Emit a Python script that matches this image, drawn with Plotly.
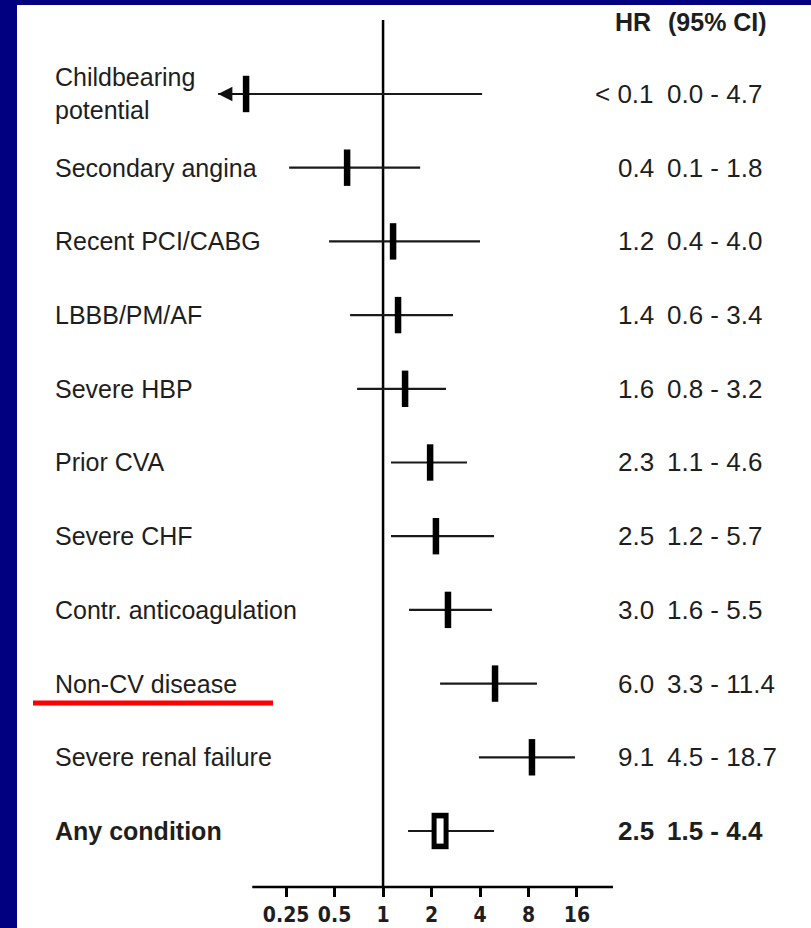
import math
import plotly.graph_objects as go

# ---------------- data ----------------
conditions = ["Childbearing<br>potential", "Secondary angina", "Recent PCI/CABG",
              "LBBB/PM/AF", "Severe HBP", "Prior CVA", "Severe CHF",
              "Contr. anticoagulation", "Non-CV disease", "Severe renal failure",
              "Any condition"]
hr_text = ["< 0.1", "0.4", "1.2", "1.4", "1.6", "2.3", "2.5", "3.0", "6.0", "9.1", "2.5"]
ci_text = ["0.0 - 4.7", "0.1 - 1.8", "0.4 - 4.0", "0.6 - 3.4", "0.8 - 3.2", "1.1 - 4.6",
           "1.2 - 5.7", "1.6 - 5.5", "3.3 - 11.4", "4.5 - 18.7", "1.5 - 4.4"]
# point estimates and CI ends as drawn on the plot
est = [0.141, 0.598, 1.154, 1.239, 1.37, 1.96, 2.13, 2.53, 4.96, 8.41, 2.26]
lo = [0.0945, 0.261, 0.462, 0.624, 0.690, 1.12, 1.12, 1.45, 2.26, 3.94, 1.43]
hi = [4.12, 1.70, 4.0, 2.72, 2.46, 3.32, 4.89, 4.75, 9.03, 15.55, 4.89]
tick_vals = [0.25, 0.5, 1, 2, 4, 8, 16]
tick_text = ["0.25", "0.5", "1", "2", "4", "8", "16"]
summary_index = 10

W, H = 811, 928
rows = list(range(len(conditions)))
axis_line_start = 0.154          # where the drawn x-axis line begins
x_range_vals = (0.0866, 26.8)     # plotting range (extra room on the left for the arrow)
y_top, y_bot = -1.004, 10.76

# pixel geometry of the plotting area
px_left, px_right = 212, 613
px_top, px_bottom = 20, 887

def to_px(v):
    l0, l1 = math.log10(x_range_vals[0]), math.log10(x_range_vals[1])
    return px_left + (math.log10(v) - l0) / (l1 - l0) * (px_right - px_left)

fig = go.Figure()

# reference line at HR = 1
fig.add_trace(go.Scatter(x=[1, 1], y=[y_top, y_bot], mode="lines",
                         line=dict(color="black", width=2.5), hoverinfo="skip",
                         showlegend=False, cliponaxis=False))

for i in rows:
    fig.add_trace(go.Scatter(x=[lo[i], hi[i]], y=[i, i], mode="lines",
                             line=dict(color="#1a1a1a", width=2.2),
                             hoverinfo="skip", showlegend=False))
    if lo[i] < axis_line_start:
        # CI runs off the axis: arrow head
        fig.add_annotation(x=math.log10(lo[i]), y=i, xref="x", yref="y",
                           ax=math.log10(est[i]), ay=i, axref="x", ayref="y",
                           showarrow=True, arrowhead=2, arrowsize=1.3, arrowwidth=2.2,
                           arrowcolor="#111", text="")

# point estimates: thick vertical ticks
tick_rows = [i for i in rows if i != summary_index]
fig.add_trace(go.Scatter(x=[est[i] for i in tick_rows], y=tick_rows, mode="markers",
                         marker=dict(symbol="line-ns", size=26,
                                     line=dict(color="black", width=6.5)),
                         showlegend=False, cliponaxis=False))
# summary: open rectangle
fig.add_trace(go.Scatter(x=[est[summary_index]], y=[summary_index], mode="markers",
                         marker=dict(symbol="line-ns", size=26,
                                     line=dict(color="black", width=17)),
                         showlegend=False, cliponaxis=False))
fig.add_trace(go.Scatter(x=[est[summary_index]], y=[summary_index], mode="markers",
                         marker=dict(symbol="line-ns", size=18,
                                     line=dict(color="white", width=7)),
                         showlegend=False, cliponaxis=False))

label_font = dict(family="Liberation Sans, Arial, Helvetica, sans-serif", size=25, color="#1e1e1e")
value_font = dict(family="Liberation Sans, Arial, Helvetica, sans-serif", size=26, color="#1e1e1e")
for i in rows:
    bold = i == summary_index
    name = f"<b>{conditions[i]}</b>" if bold else conditions[i]
    h = f"<b>{hr_text[i]}</b>" if bold else hr_text[i]
    c = f"<b>{ci_text[i]}</b>" if bold else ci_text[i]
    fig.add_annotation(x=53 / W, y=i, xref="paper", yref="y", text=name, showarrow=False,
                       xanchor="left", yanchor="middle", align="left", font=label_font)
    fig.add_annotation(x=656 / W, y=i, xref="paper", yref="y", text=h, showarrow=False,
                       xanchor="right", yanchor="middle", font=value_font)
    fig.add_annotation(x=665 / W, y=i, xref="paper", yref="y", text=c, showarrow=False,
                       xanchor="left", yanchor="middle", font=value_font)

head_y = (H - 22) / H
fig.add_annotation(x=653 / W, y=head_y, xref="paper", yref="paper", text="<b>HR</b>",
                   showarrow=False, xanchor="right", yanchor="middle", font=label_font)
fig.add_annotation(x=666 / W, y=head_y, xref="paper", yref="paper", text="<b>(95% CI)</b>",
                   showarrow=False, xanchor="left", yanchor="middle", font=label_font)

# white slide panel on navy background
fig.add_shape(type="rect", xref="paper", yref="paper", x0=17 / W, x1=1, y0=0, y1=(H - 5) / H,
              fillcolor="white", line=dict(width=0), layer="below")
# x-axis line (starts at axis_line_start, not at the left of the plotting range)
axis_y = (H - px_bottom) / H
fig.add_shape(type="line", xref="paper", yref="paper",
              x0=to_px(axis_line_start) / W, x1=px_right / W, y0=axis_y, y1=axis_y,
              line=dict(color="black", width=2.5))
# red underline
fig.add_shape(type="line", xref="paper", yref="paper", x0=33 / W, x1=273 / W,
              y0=(H - 703) / H, y1=(H - 703) / H, line=dict(color="#ff0000", width=5))

fig.update_layout(
    width=W, height=H, margin=dict(l=0, r=0, t=0, b=0),
    paper_bgcolor="#000080", plot_bgcolor="rgba(0,0,0,0)",
    showlegend=False,
    xaxis=dict(type="log", range=[math.log10(x_range_vals[0]), math.log10(x_range_vals[1])],
               domain=[px_left / W, px_right / W], showgrid=False, zeroline=False,
               showline=False,
               ticks="outside", ticklen=9, tickwidth=2.5, tickcolor="black",
               tickvals=tick_vals, ticktext=tick_text,
               tickfont=dict(family="DejaVu Sans Condensed, Liberation Sans Narrow, Arial Narrow, Arial",
                             size=21, color="#1e1e1e", weight="bold")),
    yaxis=dict(range=[y_bot, y_top], domain=[(H - px_bottom) / H, (H - px_top) / H], visible=False),
)

fig.write_html("out.html", config={"displayModeBar": False},
               post_script="document.body.style.margin='0';")
